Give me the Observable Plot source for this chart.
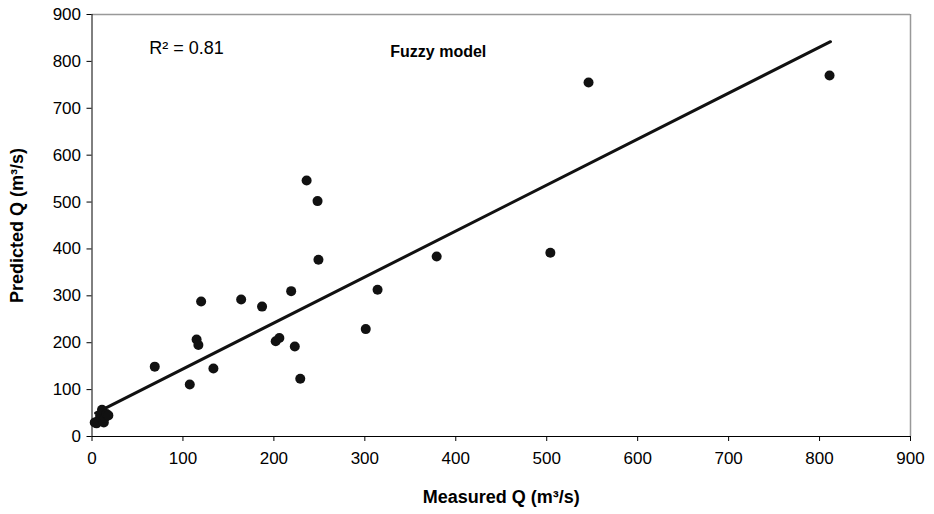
<!DOCTYPE html>
<html>
<head>
<meta charset="utf-8">
<script src="https://cdn.jsdelivr.net/npm/d3@7"></script>
<script src="https://cdn.jsdelivr.net/npm/@observablehq/plot@0.6"></script>
<style>
  html, body { margin: 0; padding: 0; background: #fff; }
  svg { font-family: "Liberation Sans", Arial, sans-serif; }
</style>
</head>
<body>
<div id="chart"></div>
<script>
// Measured vs predicted discharge (m3/s)
const measured  = [3, 5, 6, 8, 9, 10, 11, 12, 13, 14, 16, 18,
                   69, 107.5, 115, 117, 120, 133.5, 164, 187, 202, 206, 219, 223, 229,
                   236, 248, 249, 301, 314, 379, 504, 546, 811];
const predicted = [30, 28, 32, 35, 45, 38, 57, 33, 30, 40, 48, 45,
                   149, 111, 207, 195, 288, 145, 292, 277, 203, 210, 310, 192, 123,
                   546, 502, 377, 229, 313, 384, 392, 755, 770];
// Regression line endpoints
const fitX = [4, 812];
const fitY = [50, 842];
const xTicks = [0, 100, 200, 300, 400, 500, 600, 700, 800, 900];
const yTicks = [0, 100, 200, 300, 400, 500, 600, 700, 800, 900];
const r2Label = "R\u00B2 = 0.81";
const modelLabel = "Fuzzy model";
const xLabel = "Measured Q (m\u00B3/s)";
const yLabel = "Predicted Q (m\u00B3/s)";

const points = measured.map((m, i) => ({x: m, y: predicted[i]}));
const fit = fitX.map((x, i) => ({x, y: fitY[i]}));

const chart = Plot.plot({
  width: 934,
  height: 514,
  marginLeft: 91.5,
  marginRight: 24,
  marginTop: 14,
  marginBottom: 78,
  style: {fontFamily: "'Liberation Sans', Arial, sans-serif", background: "#fff"},
  x: {domain: [0, 900]},
  y: {domain: [0, 900]},
  marks: [
    Plot.ruleY([900], {stroke: "#999", strokeWidth: 1.5}),
    Plot.ruleX([900], {stroke: "#999", strokeWidth: 1.5}),
    Plot.axisX({ticks: xTicks, tickSize: 5, tickPadding: 10, fontSize: 17, label: null, stroke: "#000", color: "#000"}),
    Plot.axisY({ticks: yTicks, tickSize: 5, tickPadding: 6, fontSize: 17, label: null, stroke: "#000", color: "#000"}),
    Plot.ruleX([0], {stroke: "#000", strokeWidth: 1}),
    Plot.ruleY([0], {stroke: "#000", strokeWidth: 1}),
    Plot.line(fit, {x: "x", y: "y", stroke: "#111", strokeWidth: 3}),
    Plot.dot(points, {x: "x", y: "y", r: 5, fill: "#111", stroke: "none"}),
    Plot.text([r2Label], {x: 63, y: 829, text: d => d, textAnchor: "start", fontSize: 18, fill: "#000"}),
    Plot.text([modelLabel], {x: 328, y: 821, text: d => d, textAnchor: "start", fontSize: 16, fontWeight: "bold", fill: "#000"}),
    Plot.text([xLabel], {frameAnchor: "bottom", dy: 61, textAnchor: "middle", lineAnchor: "middle", text: d => d, fontSize: 18, fontWeight: "bold", fill: "#000"}),
    Plot.text([yLabel], {frameAnchor: "left", dx: -75, rotate: -90, textAnchor: "middle", lineAnchor: "middle", text: d => d, fontSize: 18, fontWeight: "bold", fill: "#000"})
  ]
});
document.getElementById("chart").appendChild(chart);
</script>
</body>
</html>
